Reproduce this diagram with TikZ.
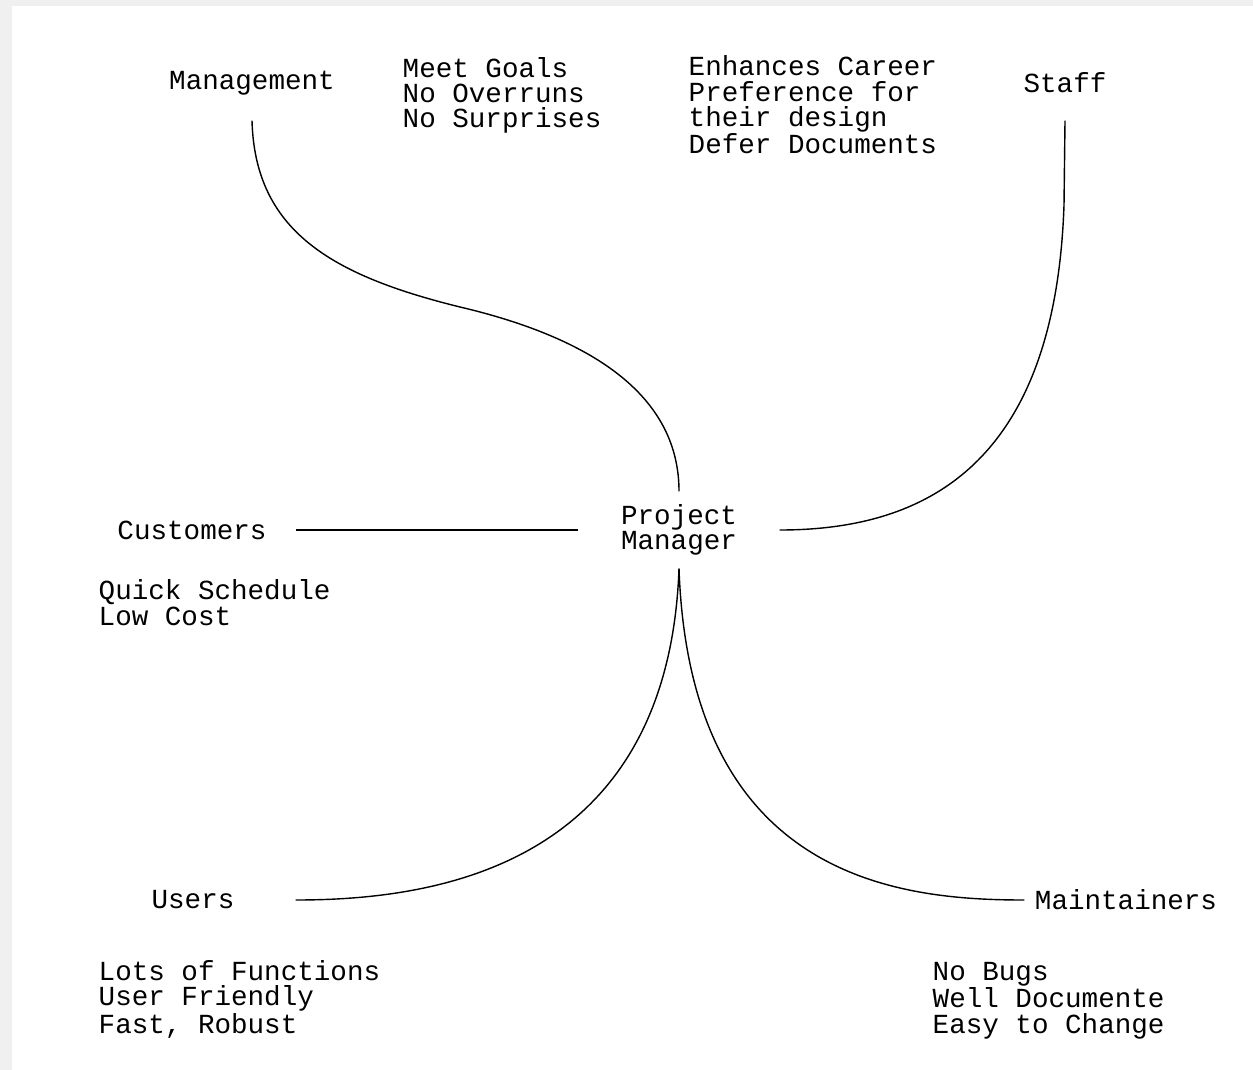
\documentclass[tikz,border=0pt]{standalone}
\usepackage{fontspec}
\setmonofont{Liberation Mono}
\usetikzlibrary{positioning}
\newcommand\partyfont{\ttfamily\fontsize{15.7}{14.5}\selectfont}

\begin{document}
\begin{tikzpicture}[thick,
    party/.style={font=\partyfont,inner sep=0pt},
    wants/.style={font=\partyfont,align=left,inner sep=0pt,anchor=base west}]

        % frame
        \useasboundingbox (0,0) rectangle (25.06,-21.4);
        \fill[black!6] (0,0) rectangle (25.06,-21.4);
        \fill[white] (0.24,-0.12) rectangle (25.06,-21.4);

        \node[party,align=center,minimum width=4cm,minimum height=1.52cm] (pm) at (13.58,-10.6) {Project\\Manager};
        \node[party,minimum height=1.48cm] (mgmt) at (5.04,-1.66) {Management};
        \node[party,minimum height=1.48cm] (staff) at (21.3,-1.66) {Staff};
        \node[party,minimum width=4.12cm] (cust) at (3.84,-10.6) {Customers};
        \node[party,minimum width=4.08cm] (users) at (3.86,-18) {Users};
        \node[party,minimum width=4.04cm] (maint) at (22.52,-18) {Maintainers};

        % base anchor sits on the last line
        \node[wants] (mgmtwants) at (8.04,-2.56) {Meet Goals\\No Overruns\\No Surprises};
        \node[wants] (staffwants) at (13.76,-3.08) {Enhances Career\\Preference for\\their design\\Defer Documents};
        \node[wants] (custwants) at (1.96,-12.5) {Quick Schedule\\Low Cost};
        \node[wants] (userwants) at (1.96,-20.66) {Lots of Functions\\User Friendly\\Fast, Robust};
        \node[wants] (maintwants) at (18.64,-20.66) {No Bugs\\Well Documente\\Easy to Change};

        \path (cust) edge (pm);
        \draw (mgmt.south) .. controls (5.1,-4.6) and (6.6,-5.5) .. (9.2,-6.14)
                           .. controls (12,-6.8) and (13.58,-8) .. (pm.north);
        \draw (staff.south) -- (21.28,-4.1) .. controls (21.1,-9.4) and (18.4,-10.6) .. (pm.east);
        \draw (pm.south) .. controls (13.36,-17.4) and (8.6,-18) .. (users.east);
        \draw (pm.south) .. controls (13.8,-17.6) and (18,-18) .. (maint.west);
      \end{tikzpicture}
\end{document}
